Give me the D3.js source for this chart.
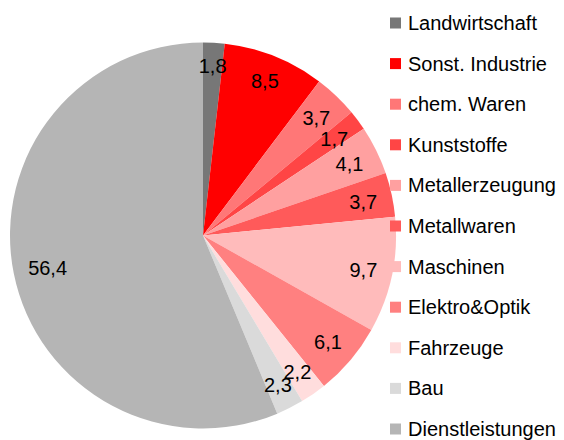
<!DOCTYPE html>
<html>
<head>
<meta charset="utf-8">
<script src="https://cdn.jsdelivr.net/npm/d3@7"></script>
<style>
  body { margin: 0; background: #fff; }
  text { font-family: "Liberation Sans", Arial, sans-serif; fill: #000; }
</style>
</head>
<body>
<div id="chart"></div>
<script>
    // data
    var categories = ["Landwirtschaft", "Sonst. Industrie", "chem. Waren", "Kunststoffe",
        "Metallerzeugung", "Metallwaren", "Maschinen", "Elektro&Optik", "Fahrzeuge",
        "Bau", "Dienstleistungen"];
    var values = [1.8, 8.5, 3.7, 1.7, 4.1, 3.7, 9.7, 6.1, 2.2, 2.3, 56.4];
    var colors = ["#777777", "#ff0000", "#ff7777", "#ff4545", "#ffa0a0", "#ff5a5a",
        "#ffbbbb", "#ff8080", "#ffdddd", "#dadada", "#b5b5b5"];

    var svgWidth = 564;
    var svgHeight = 440;
    var cx = 203, cy = 235.5, radius = 193;
    var fontSize = 20;

    var svg = d3.select("#chart")
        .append("svg")
        .attr("width", svgWidth)
        .attr("height", svgHeight);

    var data = categories.map((c, i) => ({ name: c, value: values[i], color: colors[i] }));

    var pie = d3.pie()
        .sort(null)
        .value(d => d.value);

    var arc = d3.arc()
        .innerRadius(0)
        .outerRadius(radius);

    var arcs = pie(data);

    var pieGroup = svg.append("g")
        .attr("transform", `translate(${cx}, ${cy})`);

    pieGroup.selectAll("path")
        .data(arcs)
        .enter()
        .append("path")
        .attr("d", arc)
        .attr("fill", d => d.data.color);

    // labels placed "inside end": far corner of the text box sits just inside the rim
    var labels = pieGroup.selectAll("text.lbl")
        .data(arcs)
        .enter()
        .append("text")
        .attr("class", "lbl")
        .attr("text-anchor", "middle")
        .attr("dominant-baseline", "central")
        .style("font-size", fontSize + "px")
        .text(d => String(d.data.value).replace(".", ","));

    labels.each(function(d) {
        var w = this.getComputedTextLength();
        var h = fontSize * 0.72;
        var a = (d.startAngle + d.endAngle) / 2;
        var dx = Math.sin(a), dy = -Math.cos(a);
        var ext = (w / 2) * Math.abs(dx) + (h / 2) * Math.abs(dy);
        var t = radius - 14 - ext;
        d3.select(this)
            .attr("x", dx * t)
            .attr("y", dy * t + 1);
    });

    // legend
    var legendY = d3.scalePoint()
        .domain(categories)
        .range([23, 429]);

    var legend = svg.append("g")
        .selectAll("g")
        .data(data)
        .enter()
        .append("g")
        .attr("transform", d => `translate(390, ${legendY(d.name)})`);

    legend.append("rect")
        .attr("x", 0)
        .attr("y", -5.5)
        .attr("width", 11)
        .attr("height", 11)
        .attr("fill", d => d.color);

    legend.append("text")
        .attr("x", 18)
        .attr("y", 7)
        .style("font-size", fontSize + "px")
        .text(d => d.name);
</script>
</body>
</html>
